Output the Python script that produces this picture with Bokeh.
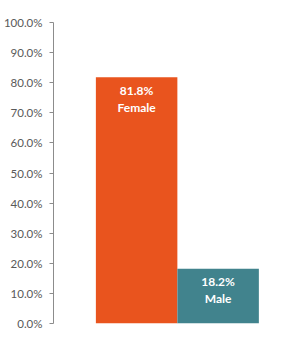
from bokeh.plotting import figure
from bokeh.models import Range1d, NumeralTickFormatter, ColumnDataSource, FixedTicker
from bokeh.core.properties import value
from bokeh.embed import file_html
from bokeh.resources import INLINE

categories = ["Female", "Male"]
shares = [0.818, 0.182]
colors = ["#E9541E", "#41838D"]
y_ticks = [0.0, 0.1, 0.2, 0.3, 0.4, 0.5, 0.6, 0.7, 0.8, 0.9, 1.0]

xs = list(range(len(categories)))
src = ColumnDataSource(dict(
    x=xs, top=shares, color=colors, name=categories,
    pct=[f"{v*100:.1f}%" for v in shares],
))

p = figure(width=304, height=338, output_backend="svg", toolbar_location=None,
           x_range=Range1d(-1.02, 2.06), y_range=Range1d(0, 1.0),
           min_border_left=53, min_border_right=0, min_border_top=22, min_border_bottom=15)
p.outline_line_color = None
p.background_fill_color = "white"
p.border_fill_color = "white"
p.xgrid.visible = False
p.ygrid.visible = False
p.xaxis.visible = False

p.vbar(x="x", top="top", bottom=0, width=1.0, fill_color="color", line_color=None, source=src)

p.text(x="x", y="top", text="pct", source=src, text_color="white",
       text_font=value("Lato"), text_font_style="bold", text_font_size="12px",
       text_align="center", text_baseline="middle", y_offset=13)
p.text(x="x", y="top", text="name", source=src, text_color="white",
       text_font=value("Lato"), text_font_style="bold", text_font_size="12px",
       text_align="center", text_baseline="middle", y_offset=30)

ax = p.yaxis[0]
ax.ticker = FixedTicker(ticks=y_ticks)
ax.formatter = NumeralTickFormatter(format="0.0%")
ax.axis_line_color = "#8C8C8C"
ax.major_tick_line_color = "#8C8C8C"
ax.major_tick_out = 4
ax.major_tick_in = 0
ax.minor_tick_out = 0
ax.minor_tick_in = 0
ax.major_label_text_font = "Lato"
ax.major_label_text_font_size = "11.5px"
ax.major_label_text_color = "#595959"
ax.major_label_standoff = 7

open("out.html", "w").write(file_html(p, INLINE))
